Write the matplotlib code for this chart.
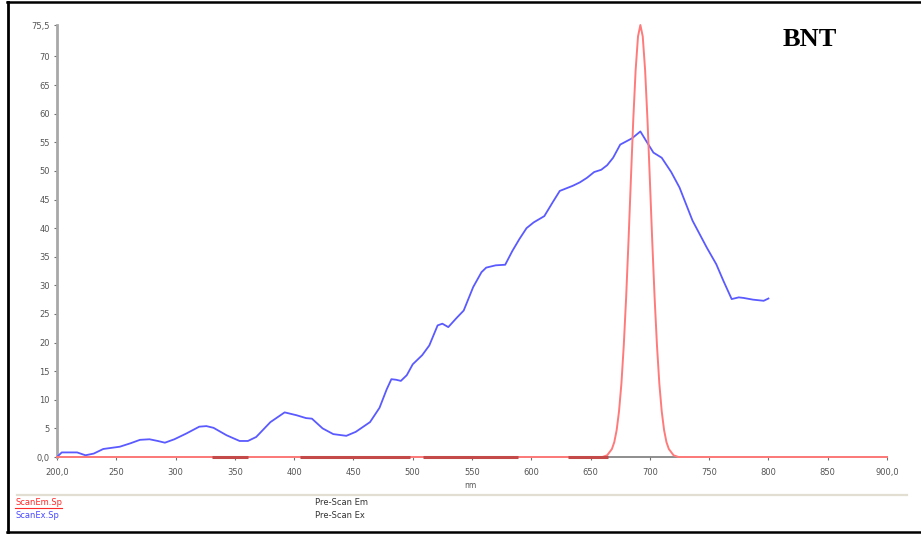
import matplotlib
matplotlib.use("Agg")
import matplotlib.pyplot as plt
from matplotlib.lines import Line2D

# Excitation scan (ScanEx.Sp): wavelength in nm, intensity
ex_nm = [200, 204, 210, 217, 224, 231, 239, 253, 262, 270, 278, 285, 291, 299,
         309, 320, 326, 332, 343, 354, 361, 368, 380, 392, 402, 410, 415, 424,
         433, 444, 452, 464, 472, 478, 482, 486, 490, 495, 500, 508, 514, 521,
         525, 530, 537, 543, 551, 558, 562, 570, 578, 584, 590, 596, 602, 611,
         618, 624, 635, 641, 647, 653, 659, 664, 669, 675, 685, 692, 697, 703,
         710, 718, 725, 736, 748, 756, 762, 769, 775, 779, 787, 796, 800]
ex_val = [0.0, 0.8, 0.8, 0.8, 0.3, 0.6, 1.4, 1.8, 2.4, 3.0, 3.1, 2.8, 2.5, 3.1,
          4.1, 5.3, 5.4, 5.1, 3.8, 2.8, 2.8, 3.5, 6.1, 7.8, 7.3, 6.8, 6.7, 5.0,
          4.0, 3.7, 4.4, 6.1, 8.6, 11.8, 13.6, 13.5, 13.3, 14.3, 16.2, 17.8, 19.5, 23.0,
          23.3, 22.7, 24.3, 25.6, 29.7, 32.3, 33.1, 33.5, 33.6, 36.0, 38.1, 40.0, 41.0, 42.1,
          44.5, 46.5, 47.4, 48.0, 48.8, 49.8, 50.2, 51.0, 52.3, 54.6, 55.7, 56.9, 55.2, 53.2,
          52.3, 49.8, 47.1, 41.3, 36.6, 33.7, 30.8, 27.6, 27.9, 27.8, 27.5, 27.3, 27.7]

# Emission scan (ScanEm.Sp)
em_nm = [200, 660, 664, 668, 670, 672, 674, 676, 678, 680, 682, 684, 686, 688,
         690, 692, 694, 696, 698, 700, 702, 704, 706, 708, 710, 712, 714, 716,
         720, 724, 900]
em_val = [0.0, 0.0, 0.3, 1.4, 2.6, 4.7, 8.0, 12.8, 19.5, 27.9, 37.8, 48.5, 58.9, 67.6,
          73.5, 75.5, 73.5, 67.6, 58.9, 48.5, 37.8, 27.9, 19.5, 12.8, 8.0, 4.7, 2.6, 1.4,
          0.3, 0.0, 0.0]

# Darker stretches along the emission baseline (nm ranges)
dark_ranges = [(331, 361), (405, 498), (509, 589), (631, 665)]

x_ticks = [200, 250, 300, 350, 400, 450, 500, 550, 600, 650, 700, 750, 800, 850, 900]
x_labels = ["200,0", "250", "300", "350", "400", "450", "500", "550", "600",
            "650", "700", "750", "800", "850", "900,0"]
y_ticks = [0, 5, 10, 15, 20, 25, 30, 35, 40, 45, 50, 55, 60, 65, 70, 75.5]
y_labels = ["0,0", "5", "10", "15", "20", "25", "30", "35", "40", "45", "50",
            "55", "60", "65", "70", "75,5"]

W, H = 921, 536
fig = plt.figure(figsize=(W / 100, H / 100), dpi=100)
fig.patch.set_facecolor("white")

def fx(px):
    return px / W

def fy(py):
    return 1 - py / H

ax = fig.add_axes([fx(57), fy(457), fx(887) - fx(57), fy(25) - fy(457)])
ax.set_xlim(200, 900)
ax.set_ylim(0, 75.5)

ax.plot(ex_nm, ex_val, color="#5a5aff", lw=1.3, zorder=3, solid_joinstyle="round")
ax.plot(em_nm, em_val, color="#ff7a7a", lw=1.4, zorder=4, clip_on=False)
for a, b in dark_ranges:
    ax.plot([a, b], [0, 0], color="#c44a4a", lw=2.2, zorder=5, clip_on=False,
            solid_capstyle="butt")

for s in ("top", "right"):
    ax.spines[s].set_visible(False)
ax.spines["left"].set_color("#a8a8a8")
ax.spines["left"].set_linewidth(2.0)
ax.spines["bottom"].set_color("#7a7a7a")
ax.spines["bottom"].set_linewidth(1.2)

ax.set_xticks(x_ticks)
ax.set_xticklabels(x_labels)
ax.set_yticks(y_ticks)
ax.set_yticklabels(y_labels)
ax.tick_params(axis="both", direction="out", length=2, width=0.8, color="#707070",
               labelsize=6, labelcolor="#555555")
ax.tick_params(axis="x", pad=6)
ax.tick_params(axis="y", pad=3)

fig.text(fx(470), fy(486), "nm", fontsize=5.5, color="#555555", ha="center", va="center")

fig.text(fx(810), fy(40), "BNT", fontsize=19, fontweight="bold",
         family="Liberation Serif", ha="center", va="center", color="black")

# separator between plot area and series list
fig.add_artist(Line2D([fx(17), fx(907)], [fy(494.5), fy(494.5)], color="#e2dfd2", lw=1.6))

t_em = fig.text(fx(15), fy(502.5), "ScanEm.Sp", fontsize=6, color="#ff2a2a",
                ha="left", va="center")
fig.text(fx(15), fy(516), "ScanEx.Sp", fontsize=6, color="#4a4aff", ha="left", va="center")
fig.text(fx(315), fy(502.5), "Pre-Scan Em", fontsize=6, color="#333333", ha="left", va="center")
fig.text(fx(315), fy(516), "Pre-Scan Ex", fontsize=6, color="#333333", ha="left", va="center")

# outer frame (top, left, bottom)
fig.add_artist(Line2D([fx(8), fx(8)], [fy(2), fy(532)], color="black", lw=2.0))
fig.add_artist(Line2D([fx(7), 1.0], [fy(2), fy(2)], color="black", lw=1.8))
fig.add_artist(Line2D([fx(7), 1.0], [fy(532), fy(532)], color="black", lw=1.8))

# underline the emission series name
fig.canvas.draw()
bb = t_em.get_window_extent(fig.canvas.get_renderer())
uy = (bb.y0 - 0.5) / H
fig.add_artist(Line2D([bb.x0 / W, bb.x1 / W], [uy, uy], color="#ff2a2a", lw=0.8))

fig.savefig("out.png", dpi=100)
